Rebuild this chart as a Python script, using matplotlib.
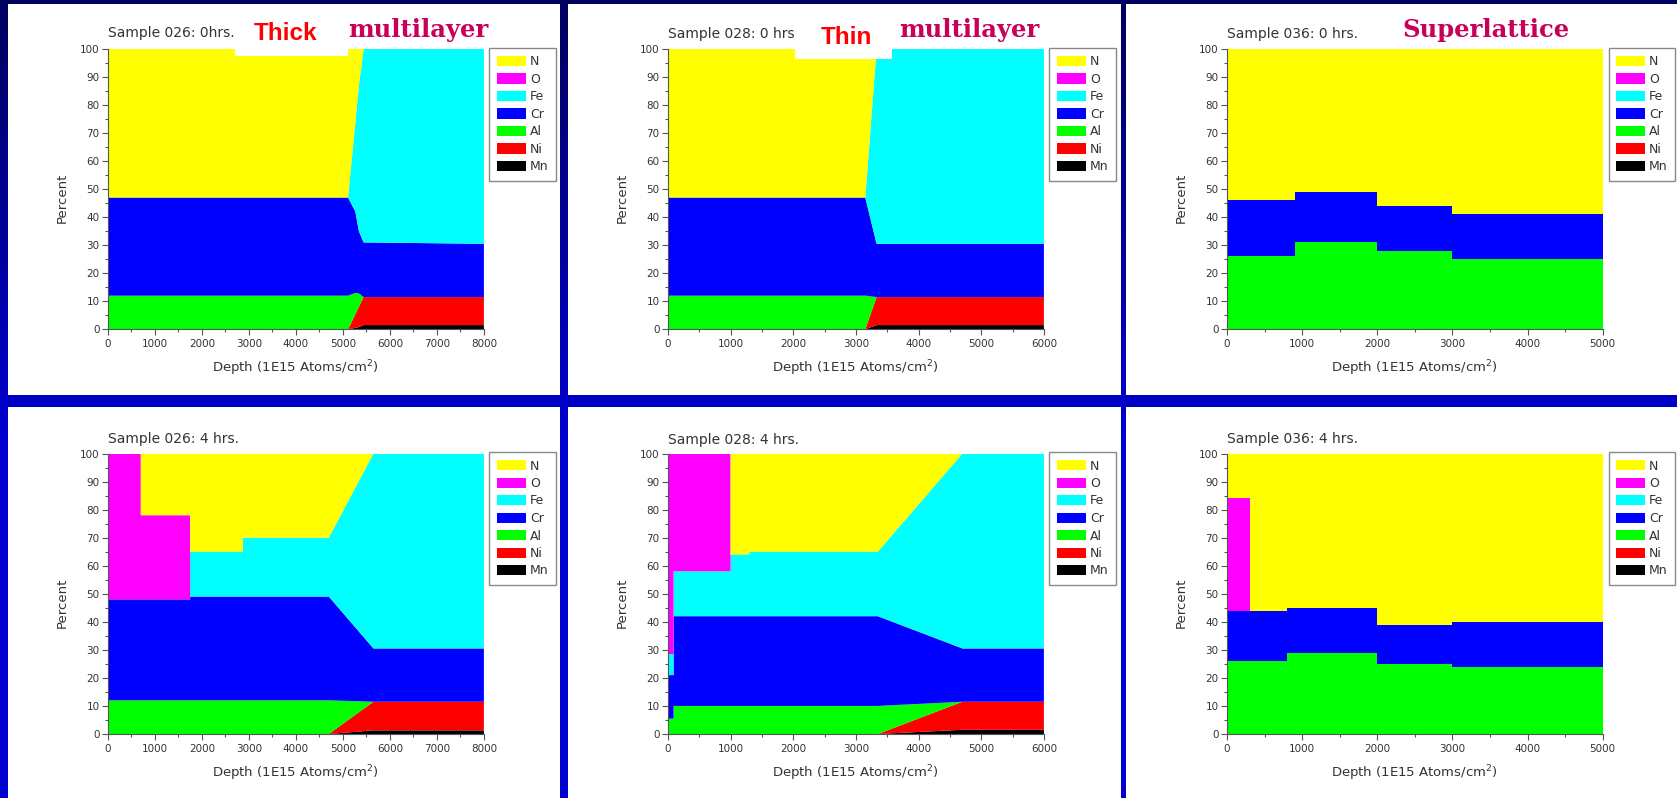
import numpy as np
import matplotlib
matplotlib.use('Agg')
import matplotlib.pyplot as plt
from matplotlib.patches import Rectangle
from matplotlib.colors import LinearSegmentedColormap
from matplotlib.ticker import MultipleLocator

# Stacking order, bottom to top
elements = ['Mn', 'Ni', 'Al', 'Cr', 'Fe', 'O', 'N']
colors = ['#000000', '#ff0000', '#00ff00', '#0000ff', '#00ffff', '#ff00ff', '#ffff00']

# Sample 026 (thick multilayer), as deposited
depth_026_0 = [0, 5110, 5265, 5340, 5440, 8000]
comp_026_0 = {
    'Mn': [0, 0, 0.5, 0.8, 1.5, 1.5],
    'Ni': [0, 0, 4.9, 7.2, 10, 10],
    'Al': [12, 12, 7.6, 4.8, 0, 0],
    'Cr': [35, 35, 29, 22.2, 19.5, 19],
    'Fe': [0, 0, 31.9, 52, 69, 69.5],
    'O':  [0, 0, 0, 0, 0, 0],
    'N':  [53, 53, 26.1, 13, 0, 0],
}

# Sample 028 (thin multilayer), as deposited
depth_028_0 = [0, 3150, 3330, 6000]
comp_028_0 = {
    'Mn': [0, 0, 1.5, 1.5],
    'Ni': [0, 0, 10, 10],
    'Al': [12, 12, 0, 0],
    'Cr': [35, 35, 19, 19],
    'Fe': [0, 0, 69.5, 69.5],
    'O':  [0, 0, 0, 0],
    'N':  [53, 53, 0, 0],
}

# Sample 036 (superlattice), as deposited
depth_036_0 = [0, 900, 900, 2000, 2000, 3000, 3000, 5000]
comp_036_0 = {
    'Mn': [0, 0, 0, 0, 0, 0, 0, 0],
    'Ni': [0, 0, 0, 0, 0, 0, 0, 0],
    'Al': [26, 26, 31, 31, 28, 28, 25, 25],
    'Cr': [20, 20, 18, 18, 16, 16, 16, 16],
    'Fe': [0, 0, 0, 0, 0, 0, 0, 0],
    'O':  [0, 0, 0, 0, 0, 0, 0, 0],
    'N':  [54, 54, 51, 51, 56, 56, 59, 59],
}

# Sample 026 after 4 hrs
depth_026_4 = [0, 700, 700, 1750, 1750, 2870, 2870, 4700, 5650, 8000]
comp_026_4 = {
    'Mn': [0, 0, 0, 0, 0, 0, 0, 0, 1.3, 1.3],
    'Ni': [0, 0, 0, 0, 0, 0, 0, 0, 10.2, 10.2],
    'Al': [12, 12, 12, 12, 12, 12, 12, 12, 0, 0],
    'Cr': [36, 36, 36, 36, 37, 37, 37, 37, 19, 19],
    'Fe': [0, 0, 0, 0, 16, 16, 21, 21, 69.5, 69.5],
    'O':  [52, 52, 30, 30, 0, 0, 0, 0, 0, 0],
    'N':  [0, 0, 22, 22, 35, 35, 30, 30, 0, 0],
}

# Sample 028 after 4 hrs
depth_028_4 = [0, 90, 90, 1000, 1000, 1300, 1300, 3350, 4700, 6000]
comp_028_4 = {
    'Mn': [0, 0, 0, 0, 0, 0, 0, 0, 1.5, 1.5],
    'Ni': [0, 0, 0, 0, 0, 0, 0, 0, 10, 10],
    'Al': [5.5, 5.5, 10, 10, 10, 10, 10, 10, 0, 0],
    'Cr': [15.5, 15.5, 32, 32, 32, 32, 32, 32, 19, 19],
    'Fe': [7.5, 7.5, 16, 16, 22, 22, 23, 23, 69.5, 69.5],
    'O':  [71.5, 71.5, 42, 42, 0, 0, 0, 0, 0, 0],
    'N':  [0, 0, 0, 0, 36, 36, 35, 35, 0, 0],
}

# Sample 036 after 4 hrs
depth_036_4 = [0, 300, 300, 800, 800, 2000, 2000, 3000, 3000, 5000]
comp_036_4 = {
    'Mn': [0, 0, 0, 0, 0, 0, 0, 0, 0, 0],
    'Ni': [0, 0, 0, 0, 0, 0, 0, 0, 0, 0],
    'Al': [26, 26, 26, 26, 29, 29, 25, 25, 24, 24],
    'Cr': [18, 18, 18, 18, 16, 16, 14, 14, 16, 16],
    'Fe': [0, 0, 0, 0, 0, 0, 0, 0, 0, 0],
    'O':  [40, 40, 0, 0, 0, 0, 0, 0, 0, 0],
    'N':  [16, 16, 56, 56, 55, 55, 61, 61, 60, 60],
}

titles = [['Sample 026: 0hrs.', 'Sample 028: 0 hrs.', 'Sample 036: 0 hrs.'],
          ['Sample 026: 4 hrs.', 'Sample 028: 4 hrs.', 'Sample 036: 4 hrs.']]
depths = [[depth_026_0, depth_028_0, depth_036_0],
          [depth_026_4, depth_028_4, depth_036_4]]
comps = [[comp_026_0, comp_028_0, comp_036_0],
         [comp_026_4, comp_028_4, comp_036_4]]
xmax = [8000, 6000, 5000]

W, H = 1677, 798
TEXT = '#333333'


def fig_box(l, t, r, b):
    """Pixel box (left, top, right, bottom) -> figure fraction rect"""
    return [l / W, 1 - b / H, (r - l) / W, (b - t) / H]


def fig_xy(x, y):
    return x / W, 1 - y / H


fig = plt.figure(figsize=(W / 100, H / 100), dpi=100)

# blue slide background, darker towards the top
bg = fig.add_axes([0, 0, 1, 1], zorder=-10)
shade = np.clip(np.linspace(0, 1, 400) / 0.55, 0, 1)[:, None]
bg.imshow(shade, aspect='auto', extent=[0, 1, 0, 1],
          cmap=LinearSegmentedColormap.from_list('slide', ['#00005e', '#0000d0']))
bg.axis('off')

panel_cols = [(8, 560), (568, 1121), (1126, 1677)]
panel_rows = [(4, 395), (407, 798)]
axes_cols = [(107.9, 483.9), (667.9, 1043.9), (1227, 1602.7)]
axes_rows = [(49, 329.3), (453.5, 734)]
legend_left = [489.3, 1049.3, 1608.5]
legend_top = [47.7, 452]
title_base = [[37, 37.7, 38.3], [442.7, 444.3, 442.7]]

for r in range(2):
    for c in range(3):
        l, rr = panel_cols[c]
        t, b = panel_rows[r]
        fig.add_artist(Rectangle(fig_xy(l, b), (rr - l) / W, (b - t) / H,
                                 transform=fig.transFigure, facecolor='white',
                                 edgecolor='none', zorder=-5))

        ax = fig.add_axes(fig_box(axes_cols[c][0], axes_rows[r][0],
                                  axes_cols[c][1], axes_rows[r][1]))
        comp = comps[r][c]
        polys = ax.stackplot(depths[r][c], [comp[e] for e in elements],
                             colors=colors, labels=elements, linewidth=0)
        ax.set_xlim(0, xmax[c])
        ax.set_ylim(0, 100)
        ax.xaxis.set_major_locator(MultipleLocator(1000))
        ax.xaxis.set_minor_locator(MultipleLocator(500))
        ax.yaxis.set_major_locator(MultipleLocator(10))
        ax.yaxis.set_minor_locator(MultipleLocator(5))
        ax.tick_params(which='both', direction='out', colors='#555555',
                       labelcolor=TEXT, labelsize=7.5, width=0.8)
        ax.tick_params(which='major', length=4)
        ax.tick_params(which='minor', length=2.5)
        ax.tick_params(axis='y', pad=2)
        ax.tick_params(axis='x', pad=3)
        for side in ['top', 'right']:
            ax.spines[side].set_visible(False)
        for side in ['left', 'bottom']:
            ax.spines[side].set_color('#555555')
            ax.spines[side].set_linewidth(0.8)

        ax.set_xlabel(r'Depth (1E15 Atoms/cm$^{2}$)', fontsize=9.5, color=TEXT, va='center')
        ax.xaxis.set_label_coords(0.5, -39 / 280.5)
        ax.set_ylabel('Percent', fontsize=9.5, color=TEXT, va='center')
        ax.yaxis.set_label_coords(-45.4 / 376, 0.468)

        leg = ax.legend(polys[::-1], elements[::-1], loc='upper left',
                        bbox_to_anchor=fig_xy(legend_left[c], legend_top[r]),
                        bbox_transform=fig.transFigure, borderaxespad=0,
                        fontsize=9, handlelength=2.3, handleheight=0.9,
                        handletextpad=0.35, labelspacing=0.36, borderpad=0.6,
                        fancybox=False, framealpha=1)
        leg.get_frame().set_edgecolor('#888888')
        leg.get_frame().set_linewidth(1)
        for txt in leg.get_texts():
            txt.set_color(TEXT)

        fig.text(*fig_xy(axes_cols[c][0], title_base[r][c]), titles[r][c],
                 fontsize=10, color=TEXT, va='baseline', ha='left')

# labels pasted over the top row
for (x0, y0, x1, y1) in [(234.6, 15, 348.2, 56), (794.6, 13.3, 892.1, 59)]:
    fig.add_artist(Rectangle(fig_xy(x0, y1), (x1 - x0) / W, (y1 - y0) / H,
                             transform=fig.transFigure, facecolor='white',
                             edgecolor='none', zorder=5))
fig.text(*fig_xy(285.7, 40), 'Thick', color='#ff0000', fontsize=17.5,
         fontweight='bold', family='Liberation Sans', ha='center', va='baseline', zorder=6)
fig.text(*fig_xy(846, 44), 'Thin', color='#ff0000', fontsize=17.5,
         fontweight='bold', family='Liberation Sans', ha='center', va='baseline', zorder=6)

CRIMSON = '#c8005a'
fig.text(*fig_xy(348, 36.7), 'multilayer', color=CRIMSON, fontsize=17.5,
         fontweight='bold', family='DejaVu Serif', ha='left', va='baseline', zorder=6)
fig.text(*fig_xy(899, 37.3), 'multilayer', color=CRIMSON, fontsize=17.5,
         fontweight='bold', family='DejaVu Serif', ha='left', va='baseline', zorder=6)
fig.text(*fig_xy(1402.7, 37.3), 'Superlattice', color=CRIMSON, fontsize=17.5,
         fontweight='bold', family='DejaVu Serif', ha='left', va='baseline', zorder=6)

fig.savefig('out.png', dpi=100, facecolor=fig.get_facecolor())
